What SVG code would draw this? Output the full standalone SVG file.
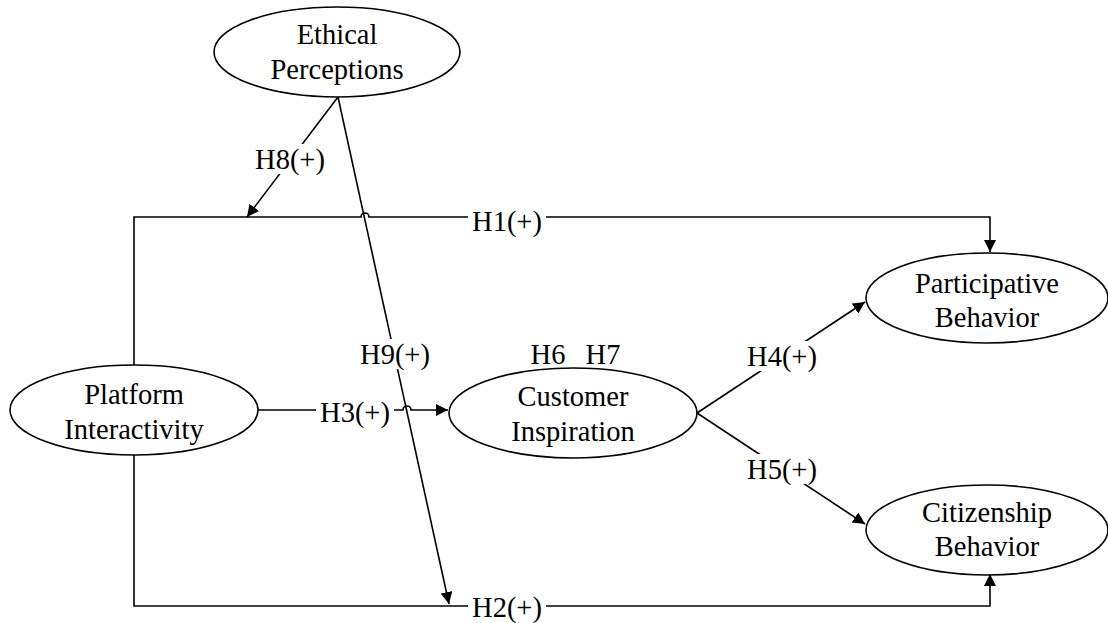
<svg xmlns="http://www.w3.org/2000/svg" width="1108" height="623" viewBox="0 0 1108 623">
<style>
.n{fill:#fff;stroke:#000;stroke-width:1.6}
.c{fill:none;stroke:#000;stroke-width:1.6}
.t{font-family:"Liberation Serif","Times New Roman",serif;font-size:28.5px;fill:#000;text-anchor:middle}
.bg{fill:#fff}
</style>
<defs>
<marker id="a" viewBox="0 0 10 10" refX="10" refY="5" markerWidth="12" markerHeight="12" markerUnits="userSpaceOnUse" orient="auto">
<path d="M0,0 L10,5 L0,10 z" fill="#000"/>
</marker>
</defs>
<g id="connectors">
<path class="c" d="M134,365 V217 H361 A4,4 0 0 1 369,217 H990 V252" marker-end="url(#a)"/>
<path class="c" d="M134,455 V606 H990 V574" marker-end="url(#a)"/>
<path class="c" d="M258,410 H403 A4,4 0 0 1 411,410 H448" marker-end="url(#a)"/>
<path class="c" d="M338,97 L449,604" marker-end="url(#a)"/>
<path class="c" d="M338,97 L247,217" marker-end="url(#a)"/>
<path class="c" d="M697,413 L865,302" marker-end="url(#a)"/>
<path class="c" d="M697,413 L865,524" marker-end="url(#a)"/>
<rect class="bg" x="468" y="206" width="78" height="30"/>
<text class="t" x="507" y="231">H1(+)</text>
<rect class="bg" x="468" y="592" width="78" height="30"/>
<text class="t" x="507" y="617">H2(+)</text>
<rect class="bg" x="316" y="397" width="78" height="30"/>
<text class="t" x="355" y="422">H3(+)</text>
<rect class="bg" x="356" y="339" width="78" height="30"/>
<text class="t" x="395" y="364">H9(+)</text>
<rect class="bg" x="251" y="144" width="78" height="30"/>
<text class="t" x="290" y="169">H8(+)</text>
<rect class="bg" x="743" y="341" width="78" height="30"/>
<text class="t" x="782" y="366">H4(+)</text>
<rect class="bg" x="743" y="454" width="78" height="30"/>
<text class="t" x="782" y="479">H5(+)</text>
<text class="t" x="548" y="364">H6</text>
<text class="t" x="603" y="364">H7</text>
</g>
<g id="ethical">
<ellipse class="n" cx="337" cy="52" rx="123" ry="45"/>
<text class="t" x="337" y="44">Ethical</text>
<text class="t" x="337" y="79">Perceptions</text>
</g>
<g id="platform">
<ellipse class="n" cx="134" cy="410" rx="124" ry="45"/>
<text class="t" x="134" y="404">Platform</text>
<text class="t" x="134" y="439">Interactivity</text>
</g>
<g id="customer">
<ellipse class="n" cx="573" cy="413" rx="124" ry="45"/>
<text class="t" x="573" y="406">Customer</text>
<text class="t" x="573" y="441">Inspiration</text>
</g>
<g id="participative">
<ellipse class="n" cx="987" cy="298" rx="121" ry="45"/>
<text class="t" x="987" y="293">Participative</text>
<text class="t" x="987" y="327">Behavior</text>
</g>
<g id="citizenship">
<ellipse class="n" cx="987" cy="530" rx="121" ry="45"/>
<text class="t" x="987" y="522">Citizenship</text>
<text class="t" x="987" y="556">Behavior</text>
</g>
</svg>
